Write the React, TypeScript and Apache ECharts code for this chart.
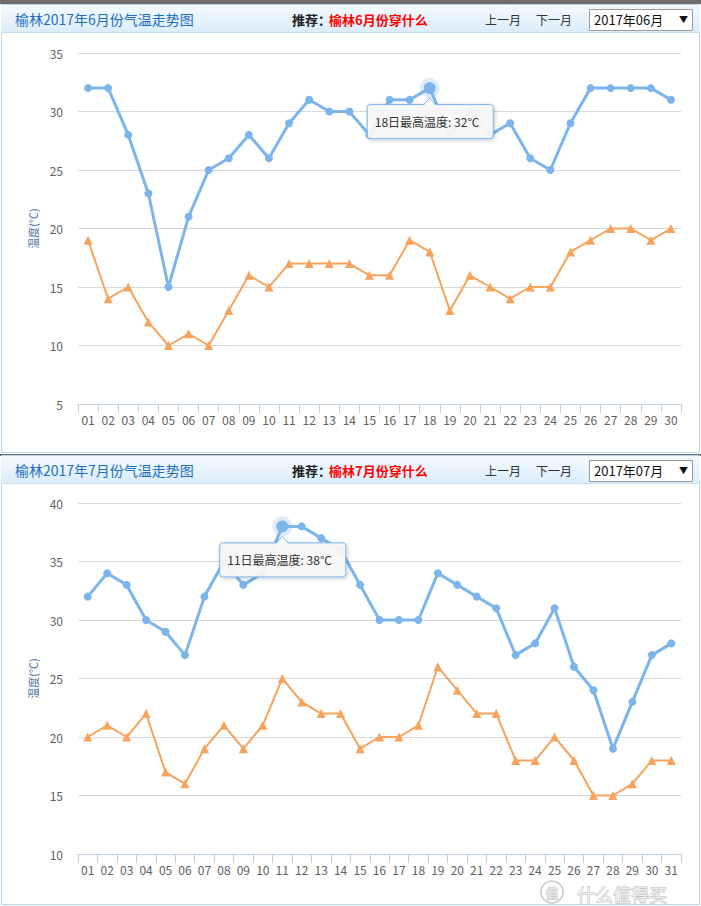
import React, { useEffect, useRef } from "react";
import * as echarts from "echarts";

const junDays = ["01","02","03","04","05","06","07","08","09","10","11","12","13","14","15","16","17","18","19","20","21","22","23","24","25","26","27","28","29","30"];
const julDays = ["01","02","03","04","05","06","07","08","09","10","11","12","13","14","15","16","17","18","19","20","21","22","23","24","25","26","27","28","29","30","31"];

const junHigh = [32,32,28,23,15,21,25,26,28,26,29,31,30,30,28,31,31,32,28,30,28,29,26,25,29,32,32,32,32,31];
const junLow = [19,14,15,12,10,11,10,13,16,15,17,17,17,17,16,16,19,18,13,16,15,14,15,15,18,19,20,20,19,20];
const julHigh = [32,34,33,30,29,27,32,35,33,34,38,38,37,36,33,30,30,30,34,33,32,31,27,28,31,26,24,19,23,27,28];
const julLow = [20,21,20,22,17,16,19,21,19,21,25,23,22,22,19,20,20,21,26,24,22,22,18,18,20,18,15,15,16,18,18];

const junTicks = [5, 35];
const julTicks = [10, 40];
const junTipIndex = 17;
const julTipIndex = 10;

const FONT = '"Noto Sans CJK SC", "Noto Sans", sans-serif';
const BLUE = "#7cb5ec";
const ORANGE = "#f7a35c";

function header(y0: number, title: string, rec: string, sel: string) {
  const cy = y0 + 14;
  const t = (x: number, text: string, size: number, fill: string, weight = "normal") => ({
    type: "text", x, y: cy, z: 10,
    style: { text, fontSize: size, fill, fontWeight: weight, fontFamily: FONT, textVerticalAlign: "middle" },
  });
  return [
    {
      type: "rect", z: 5,
      shape: { x: 1, y: y0, width: 699, height: 27 },
      style: {
        fill: new echarts.graphic.LinearGradient(0, 0, 0, 1, [
          { offset: 0, color: "#f4fafe" },
          { offset: 1, color: "#dbedfa" },
        ]),
      },
    },
    { type: "line", z: 6, shape: { x1: 1, y1: y0 + 27.5, x2: 700, y2: y0 + 27.5 }, style: { stroke: "#c2dff3", lineWidth: 1 } },
    t(15, title, 14, "#1e6fc0"),
    t(292, "推荐：", 13, "#222", "bold"),
    t(329, rec, 13, "#f00", "bold"),
    t(485, "上一月", 12, "#333"),
    t(536, "下一月", 12, "#333"),
    { type: "rect", z: 8, shape: { x: 589.5, y: y0 + 4.5, width: 103, height: 21 }, style: { fill: "#fff", stroke: "#9a9a9a", lineWidth: 1 } },
    t(594, sel, 13, "#111"),
    t(679, "▼", 9, "#111"),
  ];
}

function tip(px: number, py: number, text: string) {
  const w = 126, h = 34;
  const top = py + 16, left = px - w / 2;
  return [
    { type: "circle", z: 100, shape: { cx: px, cy: py, r: 10 }, style: { fill: "rgba(124,181,236,0.25)" } },
    { type: "circle", z: 101, shape: { cx: px, cy: py, r: 6 }, style: { fill: BLUE } },
    {
      type: "rect", z: 102,
      shape: { x: left + 0.5, y: top + 0.5, width: w, height: h, r: 3 },
      style: { fill: "rgba(249,249,249,0.93)", stroke: BLUE, lineWidth: 1, shadowBlur: 4, shadowColor: "rgba(0,0,0,0.25)", shadowOffsetX: 1, shadowOffsetY: 1 },
    },
    { type: "polygon", z: 103, shape: { points: [[px - 6, top + 1.5], [px, top - 6], [px + 6, top + 1.5]] }, style: { fill: "rgb(249,249,249)" } },
    { type: "polyline", z: 104, shape: { points: [[px - 6, top + 0.5], [px, top - 6], [px + 6, top + 0.5]] }, style: { stroke: BLUE, fill: null, lineWidth: 1 } },
    {
      type: "text", z: 105, x: left + 8, y: top + h / 2 + 0.5,
      style: { text, fontSize: 12, fill: "#333", fontFamily: FONT, textVerticalAlign: "middle" },
    },
  ];
}

export default function App() {
  const ref = useRef<HTMLDivElement>(null);
  useEffect(() => {
    if (!ref.current) return;
    const chart = echarts.init(ref.current, null, { renderer: "svg" });
    const xAxis = (gridIndex: number, data: string[]) => ({
      type: "category", gridIndex, data, boundaryGap: true,
      axisLine: { lineStyle: { color: "#c0d0e0", width: 1 } },
      axisTick: { show: true, length: 9, lineStyle: { color: "#c0d0e0" } },
      axisLabel: { color: "#606060", fontSize: 12, margin: 9, interval: 0, fontFamily: FONT },
    });
    const yAxis = (gridIndex: number, ticks: number[]) => ({
      type: "value", gridIndex, min: ticks[0], max: ticks[1], interval: 5,
      name: "温度(℃)", nameLocation: "middle", nameGap: 40,
      nameTextStyle: { color: "#4d759e", fontSize: 11, fontFamily: FONT },
      axisLine: { show: false }, axisTick: { show: false },
      axisLabel: { color: "#606060", fontSize: 12, margin: 15, fontFamily: FONT },
      splitLine: { lineStyle: { color: "#d8d8d8", width: 1 } },
    });
    const hi = (i: number, data: number[]) => ({
      type: "line", xAxisIndex: i, yAxisIndex: i, data, symbol: "circle", symbolSize: 8,
      lineStyle: { color: BLUE, width: 3 }, itemStyle: { color: BLUE }, z: 3,
    });
    const lo = (i: number, data: number[]) => ({
      type: "line", xAxisIndex: i, yAxisIndex: i, data, symbol: "triangle", symbolSize: 9,
      lineStyle: { color: ORANGE, width: 2 }, itemStyle: { color: ORANGE }, z: 2,
    });
    const baseGraphics: any[] = [
      { type: "rect", z: 1, shape: { x: 0, y: 0, width: 701, height: 4 }, style: { fill: "#6e6e6e" } },
      { type: "rect", z: 1, shape: { x: 1.5, y: 4.5, width: 698, height: 448 }, style: { fill: "none", stroke: "#b5d6ef", lineWidth: 1 } },
      { type: "rect", z: 1, shape: { x: 0, y: 454, width: 701, height: 2 }, style: { fill: "#6e6e6e" } },
      { type: "rect", z: 1, shape: { x: 1.5, y: 455.5, width: 698, height: 449 }, style: { fill: "none", stroke: "#b5d6ef", lineWidth: 1 } },
      ...header(5, "榆林2017年6月份气温走势图", "榆林6月份穿什么", "2017年06月"),
      ...header(456, "榆林2017年7月份气温走势图", "榆林7月份穿什么", "2017年07月"),
      { type: "circle", z: 120, shape: { cx: 552, cy: 892, r: 11 }, style: { fill: "rgba(255,255,255,0.5)", stroke: "#c8c8c8", lineWidth: 1.5 } },
      { type: "text", z: 121, x: 552, y: 892, style: { text: "值", fontSize: 13, fill: "rgba(255,255,255,0.7)", stroke: "#c0c0c0", lineWidth: 1, fontFamily: FONT, textAlign: "center", textVerticalAlign: "middle" } },
      { type: "text", z: 121, x: 577, y: 894, style: { text: "什么值得买", fontSize: 18, fill: "rgba(255,255,255,0.7)", stroke: "#c0c0c0", lineWidth: 1, fontFamily: FONT, textVerticalAlign: "middle" } },
    ];
    chart.setOption({
      animation: false,
      backgroundColor: "#fff",
      grid: [
        { left: 78, right: 20, top: 53, height: 351 },
        { left: 78, right: 20, top: 503, height: 351 },
      ],
      xAxis: [xAxis(0, junDays), xAxis(1, julDays)],
      yAxis: [yAxis(0, junTicks), yAxis(1, julTicks)],
      series: [lo(0, junLow), hi(0, junHigh), lo(1, julLow), hi(1, julHigh)],
      graphic: { elements: baseGraphics },
    });
    const p1 = chart.convertToPixel({ gridIndex: 0 } as any, [junTipIndex, junHigh[junTipIndex]]) as number[];
    const p2 = chart.convertToPixel({ gridIndex: 1 } as any, [julTipIndex, julHigh[julTipIndex]]) as number[];
    chart.setOption({
      graphic: {
        elements: [
          ...baseGraphics,
          ...tip(p1[0], p1[1], `${junDays[junTipIndex]}日最高温度: ${junHigh[junTipIndex]}°C`),
          ...tip(p2[0], p2[1], `${julDays[julTipIndex]}日最高温度: ${julHigh[julTipIndex]}°C`),
        ],
      },
    });
    return () => chart.dispose();
  }, []);
  return <div ref={ref} style={{ position: "fixed", left: 0, top: 0, width: 701, height: 906, background: "#fff" }} />;
}
